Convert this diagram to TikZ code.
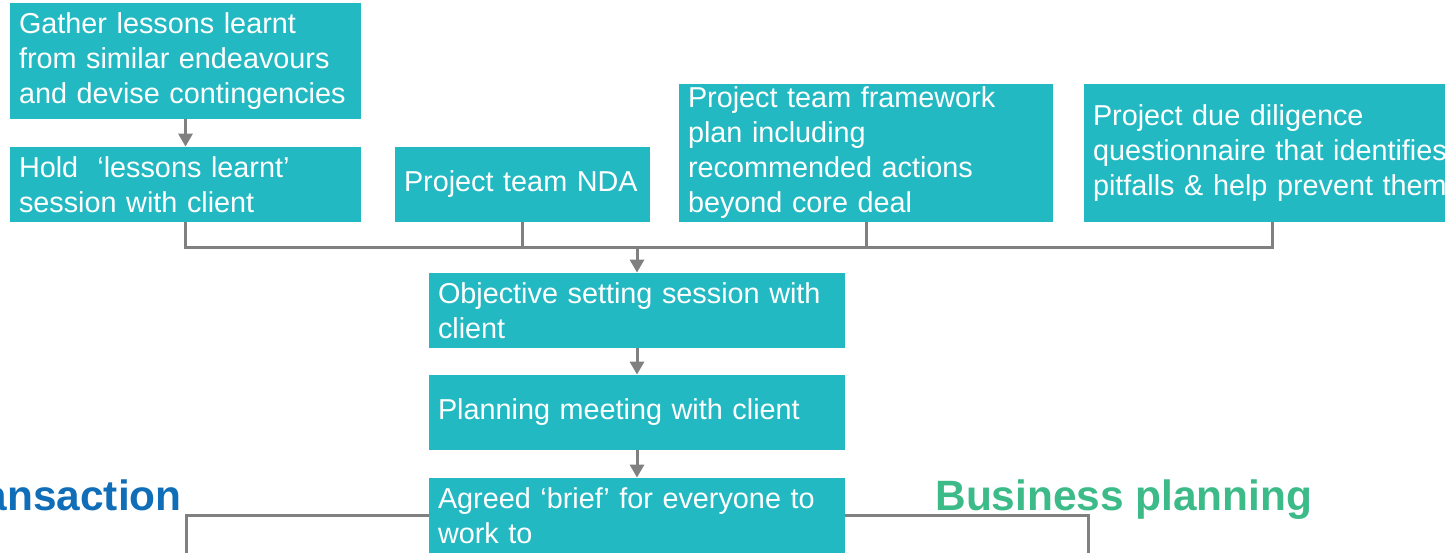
\documentclass[tikz,border=0pt]{standalone}
\usepackage{fontspec}
\setmainfont{Liberation Sans}
\usetikzlibrary{arrows.meta}
\definecolor{boxteal}{RGB}{35,185,195}
\definecolor{linegray}{RGB}{128,128,128}
\definecolor{transblue}{RGB}{16,110,184}
\definecolor{bizgreen}{RGB}{60,186,136}
\begin{document}
\begin{tikzpicture}[x=0.5pt,y=-0.5pt,
	box/.style={fill=boxteal,text=white,align=left,inner xsep=4.5pt,inner ysep=0pt,font=\fontsize{14.4}{17.5}\selectfont},
	conn/.style={draw=linegray,line width=1.5pt},
	arr/.style={conn,-{Triangle[width=7pt,length=6.5pt]}},
	heading/.style={font=\bfseries\fontsize{21.2}{25}\selectfont,inner sep=0pt,anchor=base west}]
	\useasboundingbox (0,0) rectangle (1445,552);
	\clip (0,0) rectangle (1445,552);
	\node[box,text width=166.5pt,minimum height=58pt] (gather) at (185.5,61) {Gather lessons learnt\\from similar endeavours\\and devise contingencies};
	\node[box,text width=166.5pt,minimum height=37.5pt] (hold) at (185.5,184.5) {Hold~~‘lessons learnt’\\session with client};
	\node[box,text width=118.5pt,minimum height=37.5pt] (nda) at (522.5,184.5) {Project team NDA};
	\node[box,text width=178pt,minimum height=69pt] (framework) at (866,153) {Project team framework\\plan including\\recommended actions\\beyond core deal};
	\node[box,text width=179pt,minimum height=69pt] (diligence) at (1272,153) {Project due diligence\\\mbox{questionnaire that identifies}\\\mbox{pitfalls \& help prevent them}};
	\node[box,text width=199pt,minimum height=37.5pt] (objective) at (637,310.5) {Objective setting session with\\client};
	\node[box,text width=199pt,minimum height=37.5pt] (planning) at (637,412.5) {Planning meeting with client};
	\node[box,text width=199pt,minimum height=37.5pt] (brief) at (637,515.5) {Agreed ‘brief’ for everyone to\\work to};
	\node[heading,text=transblue,anchor=base east] (transaction) at (182,510) {Transaction};
	\node[heading,text=bizgreen] (business) at (935,510) {Business planning};
	\coordinate (bus) at (637,247);
	\coordinate (transend) at (186,570);
	\coordinate (bizend) at (1088,570);
	\draw[arr] (gather) -- (hold);
	\draw[conn] (hold.south) |- (bus) -| (diligence.south);
	\draw[conn] (nda.south) -- (nda.south |- bus);
	\draw[conn] (framework.south) -- (framework.south |- bus);
	\draw[arr] (bus) -- (objective);
	\draw[arr] (objective) -- (planning);
	\draw[arr] (planning) -- (brief);
	\draw[conn] (brief.west) -| (transend);
	\draw[conn] (brief.east) -| (bizend);
\end{tikzpicture}
\end{document}
